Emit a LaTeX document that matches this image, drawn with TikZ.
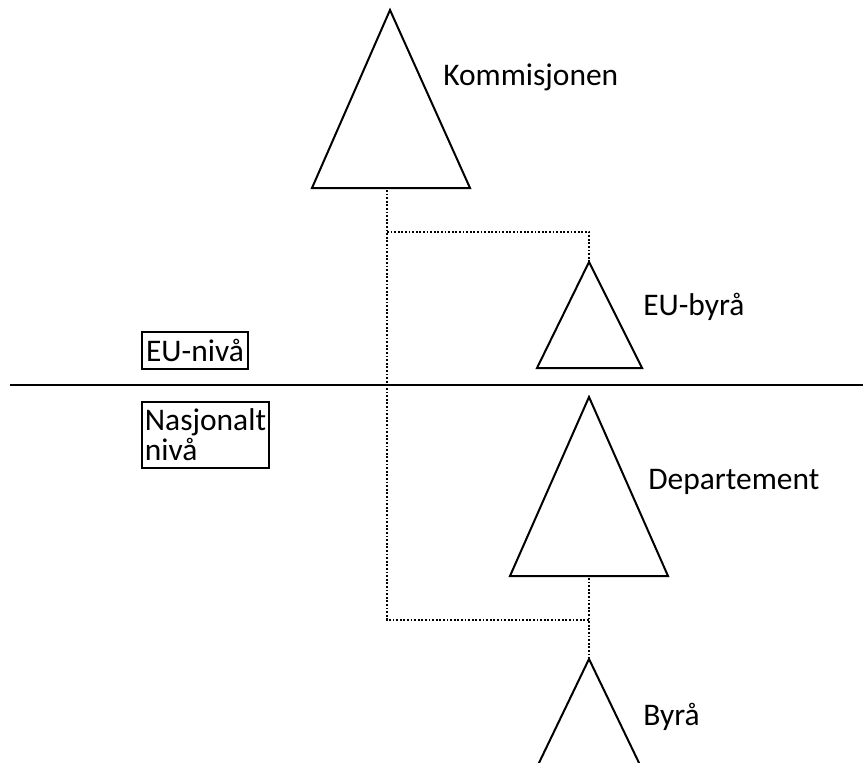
\documentclass[tikz,border=0pt]{standalone}
\usepackage{fontspec}
\setmainfont{Carlito}
\usepackage{tikz}

\tikzset{
  lbl/.style={anchor=base west, inner sep=0pt, font=\fontsize{23.6}{22.5}\selectfont},
  levelbox/.style={draw, line width=1.5pt, inner xsep=2pt, inner ysep=0pt, align=left,
    font=\fontsize{23.6}{22.5}\selectfont},
  org/.style={line width=1.5pt, line join=miter},
  link/.style={line width=1.4pt, dash pattern=on 1.4pt off 1.3pt},
}

\begin{document}
\begin{tikzpicture}[x=0.75pt,y=0.75pt,yscale=-1,xscale=1]
            \useasboundingbox (0,0) rectangle (863,763);
            \clip (0,0) rectangle (863,763);

            % Level line
            \coordinate (lineL) at (10,385);
            \coordinate (lineR) at (863,385);
            \draw[line width=1.8pt] (lineL) -- (lineR);

            % Level boxes
            \node[levelbox, minimum width=79.5pt, minimum height=27.75pt] (eulevel) at (195,350.5) {EU-nivå};
            \node[levelbox, minimum width=95pt, minimum height=49.5pt] (natlevel) at (205.5,435) {Nasjonalt\\nivå};

            % Triangles (apex coordinates)
            \coordinate (kom) at (390,10);
            \coordinate (eub) at (589,262);
            \coordinate (dep) at (589,397);
            \coordinate (byr) at (589,659);
            \draw[org] (kom) -- ++(-78,178) -- ++(158,0) -- cycle;
            \draw[org] (eub) -- ++(-52,106) -- ++(105,0) -- cycle;
            \draw[org] (dep) -- ++(-79,179) -- ++(158,0) -- cycle;
            \draw[org] (byr) -- ++(-52,108) -- ++(104,0) -- cycle;

            % Names
            \node[lbl] (komlbl) at (443,86) {Kommisjonen};
            \node[lbl] (eublbl) at (643,315) {EU-byrå};
            \node[lbl] (deplbl) at (648,489) {Departement};
            \node[lbl] (byrlbl) at (643,725) {Byrå};

            % Dotted links
            \coordinate (komfoot) at (387,190);
            \coordinate (eujoint) at (387,232);
            \coordinate (depfoot) at (589,578);
            \coordinate (depjoint) at (589,620);
            \draw[link] (komfoot) |- (depjoint);
            \draw[link] (eujoint) -| (eub);
            \draw[link] (depfoot) -- (byr);

\end{tikzpicture}
\end{document}
